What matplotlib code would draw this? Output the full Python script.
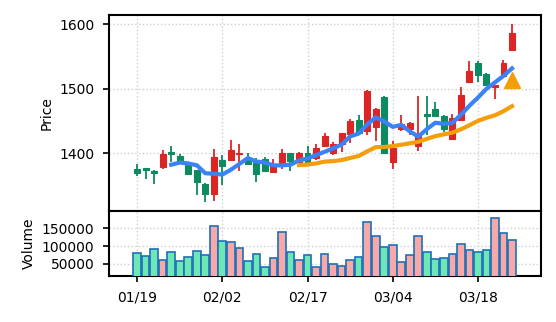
import numpy as np
import pandas as pd
import matplotlib
matplotlib.use("Agg")
import matplotlib.pyplot as plt

# daily OHLC + volume
opens = [1376.5, 1377, 1372, 1379, 1402.6, 1396, 1382, 1374, 1353, 1336.5,
         1389, 1389, 1399, 1390, 1387, 1391, 1371, 1385, 1401, 1386,
         1401, 1393, 1411, 1401, 1414, 1430, 1451, 1434, 1440, 1487,
         1386, 1438, 1438, 1411, 1461, 1468, 1458, 1422, 1451, 1510,
         1540, 1523, 1503, 1519, 1560]
closes = [1369, 1375, 1370, 1398.5, 1399.5, 1386, 1368, 1356, 1337, 1395,
          1380, 1405, 1401, 1383, 1368, 1372, 1383, 1401, 1388, 1401,
          1387, 1409, 1427, 1414, 1431, 1450, 1431, 1497, 1469, 1400,
          1408, 1446, 1447, 1428, 1458, 1458, 1437, 1455, 1490, 1528,
          1521, 1505, 1505, 1540, 1586]
highs = [1383, 1377, 1375, 1404.6, 1412, 1399, 1383, 1375, 1354, 1406,
         1397, 1421, 1415, 1401, 1393, 1395, 1392, 1406, 1401, 1402,
         1411, 1414, 1432, 1417, 1432, 1453, 1460, 1498, 1470, 1488,
         1419, 1459, 1448, 1489, 1489, 1480, 1459, 1461, 1503, 1543,
         1543, 1525, 1505, 1545, 1600]
lows = [1365, 1360, 1353, 1376.5, 1386, 1385, 1366, 1336, 1325, 1327,
        1351, 1388, 1373, 1382, 1355, 1371, 1369, 1376, 1373, 1385,
        1385, 1390, 1410, 1397, 1402, 1416, 1429, 1429, 1419, 1399,
        1376, 1434, 1428, 1404, 1428, 1457, 1433, 1420, 1450, 1509,
        1511, 1504, 1484, 1517, 1559]
volumes = [80500, 72000, 92000, 60500, 83300, 57600, 69000, 86200, 74800, 157600,
           114800, 111000, 94800, 57600, 77600, 40500, 67100, 140500, 83300, 60500,
           74800, 40500, 77600, 49000, 43300, 60500, 69000, 169000, 129000, 97600,
           103300, 54800, 74800, 129000, 83300, 63300, 66200, 77600, 106200, 89000,
           83300, 89000, 180500, 137600, 117600]

tick_idx = [0, 10, 20, 30, 40]
tick_labels = ["01/19", "02/02", "02/17", "03/04", "03/18"]

signal_idx = [44]
signal_price = [1513]

df = pd.DataFrame({"open": opens, "high": highs, "low": lows,
                   "close": closes, "volume": volumes})
df["ma5"] = df["close"].rolling(5).mean()
df["ma20"] = df["close"].rolling(20).mean()
x = np.arange(len(df))
up = df["close"] >= df["open"]

UP, DOWN = "#dc2626", "#0e8a62"

fig = plt.figure(figsize=(5.56, 3.22), dpi=100)
gs = fig.add_gridspec(2, 1, height_ratios=[3, 1], hspace=0,
                      left=0.196, right=0.973, top=0.953, bottom=0.143)
ax = fig.add_subplot(gs[0])
axv = fig.add_subplot(gs[1], sharex=ax)

# candles
colors = np.where(up, UP, DOWN)
ax.vlines(x, df["low"], df["high"], colors=colors, lw=1.3, zorder=2)
body_lo = np.minimum(df["open"], df["close"])
body_h = np.maximum(np.abs(df["close"] - df["open"]), 0.8)
ax.bar(x, body_h, bottom=body_lo, width=0.7, color=colors,
       edgecolor=colors, lw=0.8, zorder=3)

ax.plot(x, df["ma5"], color="#3b82f6", lw=3, zorder=4)
ax.plot(x, df["ma20"], color="#f59e0b", lw=3, zorder=4)
ax.plot(signal_idx, signal_price, "^", color="#f59e0b", ms=12, zorder=5)

ax.set_ylabel("Price")
ax.set_ylim(1311.25, 1613.75)
ax.set_yticks([1400, 1500, 1600])
ax.grid(True, ls=":", color="#d0d0d0", lw=1)
ax.tick_params(bottom=False, labelbottom=False)

# volume
vcolors = np.where(up, "#f7a8a8", "#6ee7b7")
axv.bar(x, df["volume"], width=0.9, color=vcolors,
        edgecolor="#1f6fb8", lw=1.2, zorder=3)
axv.set_ylabel("Volume")
axv.set_ylim(15700, 200000)
axv.set_yticks([50000, 100000, 150000])
axv.set_yticklabels(["50000", "100000", "150000"])
axv.grid(True, ls=":", color="#d0d0d0", lw=1)

axv.set_xlim(-3.3, 47.4)
axv.set_xticks(tick_idx)
axv.set_xticklabels(tick_labels)

for a in (ax, axv):
    for s in a.spines.values():
        s.set_linewidth(1.5)
    a.set_axisbelow(True)
    a.tick_params(length=4.5, width=1.2, pad=6)

fig.savefig("out.png", dpi=100)
